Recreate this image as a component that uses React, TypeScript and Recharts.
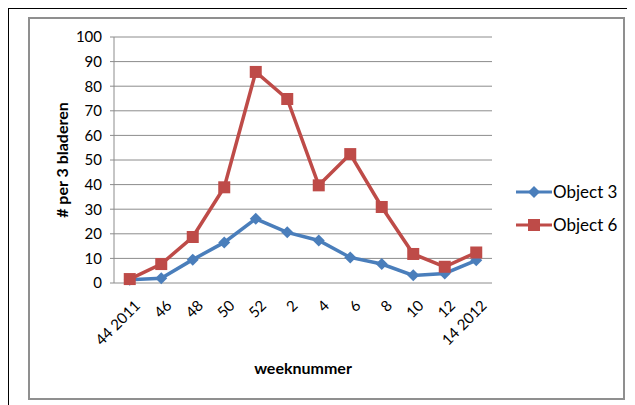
import React from "react";
import { LineChart, Line, XAxis, YAxis, CartesianGrid, Legend } from "recharts";

const weeks = ["44 2011", "46", "48", "50", "52", "2", "4", "6", "8", "10", "12", "14 2012"];
const object3 = [1.3, 1.9, 9.5, 16.5, 26.1, 20.6, 17.3, 10.4, 7.7, 3.1, 3.9, 9.2];
const object6 = [1.6, 7.7, 18.7, 38.9, 85.8, 74.8, 39.7, 52.4, 30.9, 11.8, 6.6, 12.4];
const yTicks = [0, 10, 20, 30, 40, 50, 60, 70, 80, 90, 100];

const BLUE = "#4A7EBB";
const RED = "#BE4B48";
const GRID = "#8C8C8C";
const FONT = "Lato, 'Open Sans', sans-serif";

// x position of each point = middle of its category slot
const data = weeks.map((w, i) => ({ week: w, pos: i + 0.5, obj3: object3[i], obj6: object6[i] }));
const labelTicks = weeks.map((_, i) => i + 0.5);
const boundaryTicks = weeks.map((_, i) => i).concat(weeks.length);

const Diamond = (p: any) => {
  const { cx, cy } = p;
  if (cx == null || cy == null) return null;
  const s = 6;
  return (
    <polygon
      key={p.key}
      points={`${cx},${cy - s} ${cx + s},${cy} ${cx},${cy + s} ${cx - s},${cy}`}
      fill={BLUE}
    />
  );
};

const Square = (p: any) => {
  const { cx, cy } = p;
  if (cx == null || cy == null) return null;
  const s = 6;
  return <rect key={p.key} x={cx - s} y={cy - s} width={s * 2} height={s * 2} fill={RED} />;
};

const legendItems = [
  { name: "Object 3", color: BLUE, shape: "diamond" },
  { name: "Object 6", color: RED, shape: "square" },
];

const LegendBox = () => (
  <div style={{ fontFamily: FONT, fontSize: 17, color: "#000" }}>
    {legendItems.map((it) => (
      <div key={it.name} style={{ display: "flex", alignItems: "center", height: 33 }}>
        <svg width={36} height={14} style={{ marginRight: 1 }}>
          <line x1={0} y1={7} x2={36} y2={7} stroke={it.color} strokeWidth={3} />
          {it.shape === "diamond" ? (
            <polygon points="18,1 24,7 18,13 12,7" fill={it.color} />
          ) : (
            <rect x={12} y={1} width={12} height={12} fill={it.color} />
          )}
        </svg>
        <span>{it.name}</span>
      </div>
    ))}
  </div>
);

export default function App() {
  return (
    <div
      style={{
        position: "relative",
        width: 640,
        height: 410,
        marginLeft: -1,
        marginTop: -1,
        borderLeft: "2px solid #000",
        borderTop: "2px solid #000",
        boxSizing: "border-box",
      }}
    >
      <div
        style={{
          position: "absolute",
          left: 19,
          top: 8,
          width: 597,
          height: 383,
          border: "2px solid #8f8f8f",
          boxSizing: "border-box",
          background: "#fff",
        }}
      >
        <LineChart
          width={593}
          height={379}
          data={data}
          margin={{ top: 18, right: 131, left: 0, bottom: 0 }}
        >
          <CartesianGrid horizontal vertical={false} stroke={GRID} xAxisId="lines" />
          <XAxis
            xAxisId="lines"
            dataKey="pos"
            type="number"
            domain={[0, weeks.length]}
            ticks={boundaryTicks}
            interval={0}
            height={0}
            tickSize={5}
            tickFormatter={() => ""}
            axisLine={{ stroke: GRID }}
            tickLine={{ stroke: GRID }}
          />
          <XAxis
            xAxisId="labels"
            dataKey="pos"
            type="number"
            domain={[0, weeks.length]}
            ticks={labelTicks}
            interval={0}
            height={115}
            tickLine={false}
            axisLine={false}
            tickSize={6}
            tickMargin={10}
            tickFormatter={(v: number) => weeks[Math.floor(v)]}
            angle={-45}
            textAnchor="end"
            tick={{ fill: "#000", fontSize: 15, fontFamily: FONT, dx: 4 }}
            label={{
              value: "weeknummer",
              position: "insideBottom",
              offset: 24,
              fill: "#000",
              fontSize: 16,
              fontWeight: "bold",
              fontFamily: FONT,
            }}
          />
          <YAxis
            domain={[0, 100]}
            ticks={yTicks}
            interval={0}
            width={84}
            tickSize={4}
            tickMargin={8}
            axisLine={{ stroke: GRID }}
            tickLine={{ stroke: GRID }}
            tick={{ fill: "#000", fontSize: 15, fontFamily: FONT }}
            label={{
              value: "# per 3 bladeren",
              angle: -90,
              position: "center",
              dx: -10,
              fill: "#000",
              fontSize: 16,
              fontWeight: "bold",
              fontFamily: FONT,
            }}
          />
          <Line
            xAxisId="lines"
            dataKey="obj3"
            name="Object 3"
            stroke={BLUE}
            strokeWidth={3.5}
            dot={Diamond}
            activeDot={false}
            isAnimationActive={false}
          />
          <Line
            xAxisId="lines"
            dataKey="obj6"
            name="Object 6"
            stroke={RED}
            strokeWidth={3.5}
            dot={Square}
            activeDot={false}
            isAnimationActive={false}
          />
          <Legend
            layout="horizontal"
            verticalAlign="middle"
            align="center"
            content={<LegendBox />}
            wrapperStyle={{ left: 486, top: 156, width: 120, height: 66 }}
          />
        </LineChart>
      </div>
    </div>
  );
}
